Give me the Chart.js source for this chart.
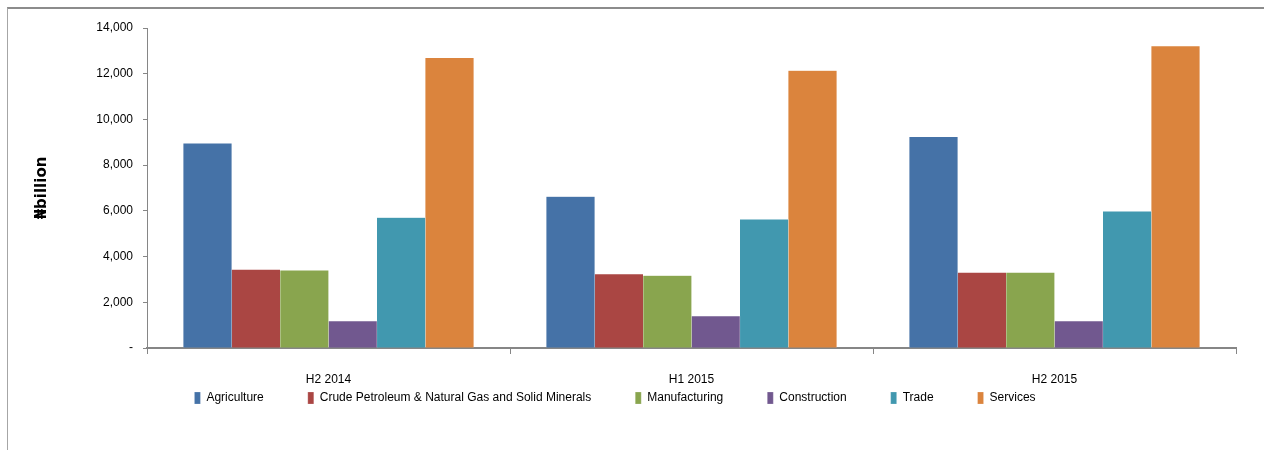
<!DOCTYPE html>
<html>
<head>
<meta charset="utf-8">
<script src="https://cdn.jsdelivr.net/npm/chart.js@4"></script>
<style>
  html, body { margin: 0; padding: 0; background: #ffffff; }
  body { width: 1264px; height: 450px; position: relative; overflow: hidden; }
  #frame {
    position: absolute; left: 7px; top: 7px; right: 0; bottom: 0;
    border-top: 2px solid #8c8c8c; border-left: 1px solid #a6a6a6;
    pointer-events: none;
  }
  #chart { position: absolute; left: -6px; top: 0; }
</style>
</head>
<body>
<div id="frame"></div>
<canvas id="chart" width="1270" height="455"></canvas>
<script>
// Half-year GDP by sector, in naira billions
const periods = ['H2 2014', 'H1 2015', 'H2 2015'];
const agriculture   = [8950, 6620, 9240];
const crudeMinerals = [3430, 3230, 3300];
const manufacturing = [3390, 3160, 3300];
const construction  = [1180, 1390, 1180];
const trade         = [5700, 5630, 5980];
const services      = [12690, 12130, 13210];

const sectorNames = [
  'Agriculture',
  'Crude Petroleum & Natural Gas and Solid Minerals',
  'Manufacturing',
  'Construction',
  'Trade',
  'Services'
];
const sectorValues = [agriculture, crudeMinerals, manufacturing, construction, trade, services];
const sectorColors = ['#4572A7', '#AA4643', '#89A54E', '#71588F', '#4198AF', '#DB843D'];

const yTicks = [0, 2000, 4000, 6000, 8000, 10000, 12000, 14000];

const sans = '"Liberation Sans", Arial, sans-serif';
const axisGray = '#868686';

// The legend keeps wide gaps between its items; pull its row up so it
// sits just under the period labels instead of a full gap below them.
const legendLift = {
  id: 'legendLift',
  afterLayout(chart, _args, opts) {
    const lg = chart.legend;
    if (!lg) return;
    lg.top -= opts.by;
    lg.bottom -= opts.by;
  }
};

new Chart(document.getElementById('chart'), {
  type: 'bar',
  data: {
    labels: periods,
    datasets: sectorNames.map((name, i) => ({
      label: name,
      data: sectorValues[i],
      backgroundColor: sectorColors[i],
      borderColor: 'rgba(255,255,255,0.35)',
      borderWidth: 0.6,
      inflateAmount: 0.5,
      categoryPercentage: 0.8,
      barPercentage: 1.0
    }))
  },
  plugins: [legendLift],
  options: {
    responsive: false,
    devicePixelRatio: 1,
    animation: false,
    layout: { padding: { left: 0, right: 28, top: 28, bottom: 2 } },
    plugins: {
      tooltip: { enabled: false },
      legendLift: { by: 39 },
      legend: {
        position: 'bottom',
        labels: {
          boxWidth: 6,
          boxHeight: 12,
          padding: 44,
          color: '#000000',
          font: { family: sans, size: 12 }
        }
      }
    },
    scales: {
      x: {
        afterFit: (scale) => { scale.height = 39; },
        grid: {
          drawOnChartArea: false,
          drawTicks: true,
          tickLength: 6,
          color: axisGray,
          offset: true
        },
        border: { color: axisGray, width: 2 },
        ticks: {
          color: '#000000',
          padding: 18,
          font: { family: sans, size: 12 }
        }
      },
      y: {
        min: 0,
        max: 14000,
        afterFit: (scale) => { scale.width = 153; },
        afterBuildTicks: (scale) => { scale.ticks = yTicks.map(v => ({ value: v })); },
        grid: {
          drawOnChartArea: false,
          drawTicks: true,
          tickLength: 4,
          color: axisGray
        },
        border: { color: axisGray, width: 1 },
        ticks: {
          color: '#000000',
          padding: 10,
          font: { family: sans, size: 12 },
          callback: (v) => (v === 0 ? '-' : Number(v).toLocaleString('en-US'))
        },
        title: {
          display: true,
          text: '₦billion',
          color: '#000000',
          padding: { top: 39, bottom: 0 },
          font: { family: '"DejaVu Sans", sans-serif', size: 15, weight: 'bold' }
        }
      }
    }
  }
});
</script>
</body>
</html>
